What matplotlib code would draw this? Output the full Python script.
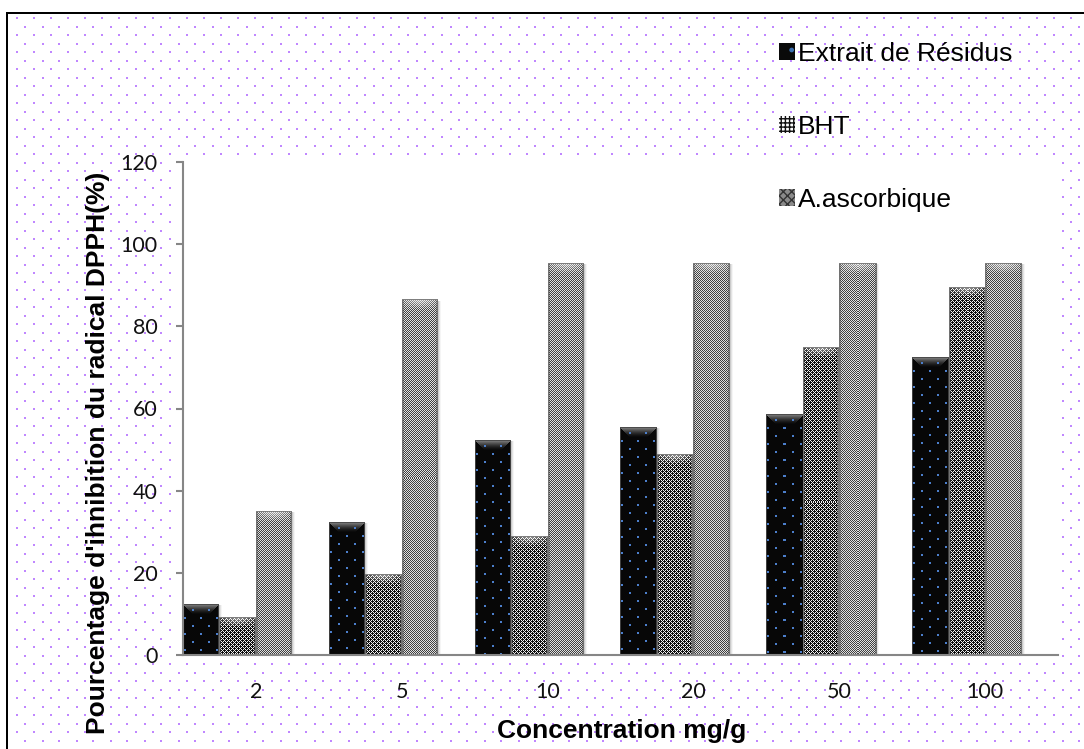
import numpy as np
import matplotlib
matplotlib.use("Agg")
import matplotlib.pyplot as plt
from matplotlib.patches import Patch
from matplotlib.transforms import Affine2D

# ---- data ----
concentrations = ["2", "5", "10", "20", "50", "100"]
extrait = [12.4, 32.4, 52.3, 55.5, 58.7, 72.5]
bht = [9.3, 19.7, 29.0, 48.9, 74.7, 89.6]
ascorbique = [35.0, 86.4, 95.5, 95.5, 95.5, 95.5]
series_names = ["Extrait de Résidus", "BHT", "A.ascorbique"]
y_ticks = [0, 20, 40, 60, 80, 100, 120]

W, H, DPI = 1084, 749, 100
fig = plt.figure(figsize=(W / DPI, H / DPI), dpi=DPI)

# ---- page background: staggered lavender dots, white plot window, black frame ----
bg = np.ones((H, W, 3))
dot_rgb = np.array([192, 135, 255]) / 255.0
r = 0
yy = 17.3
while yy < H - 1:
    xx = 16 + (8.5 if r % 2 else 0.0)
    iy = int(round(yy))
    while xx < W - 1:
        ix = int(round(xx))
        bg[iy:iy + 2, ix:ix + 2] = dot_rgb
        xx += 17
    yy += 8.5
    r += 1
bg[156:662, 178:1061] = 1.0
bg[12:14, 6:] = 0.0
bg[12:, 6:8] = 0.0
fig.figimage(bg, xo=0, yo=0, origin="upper", zorder=-1)

# ---- axes ----
left, right, top, bottom = 183, 1058, 162, 655
ax = fig.add_axes([left / W, (H - bottom) / H, (right - left) / W, (bottom - top) / H])
ax.patch.set_visible(False)
ax.set_zorder(1)

x = np.arange(len(concentrations))
width = 0.25
offsets = [-0.375, -0.125, 0.125]
series = [extrait, bht, ascorbique]
kinds = ["dots", "cross", "checker"]
containers = []
for off, vals in zip(offsets, series):
    containers.append(ax.bar(x + off, vals, width, facecolor="none",
                             edgecolor="none", linewidth=0, zorder=2))
ax.set_xlim(-0.5, len(concentrations) - 0.5)
ax.set_ylim(0, 120)


def texture(kind, h, w):
    """Fill pattern for one bar, h x w pixels."""
    rows = np.arange(h)[:, None]
    cols = np.arange(w)[None, :]
    if kind == "dots":
        t = np.full((h, w, 3), 0.03)
        # bevelled top edge
        for i in range(min(10, h)):
            v = 0.03 + 0.48 * (1 - i / 10) ** 1.5
            a, b = i, w - i
            if b > a:
                t[i, a:b] = v
        # blue dots
        for rr, ry in enumerate(range(5, h - 1, 8)):
            start = 9 if rr % 2 == 0 else 1
            for cx in range(start, w - 1, 16):
                t[ry:ry + 2, cx:cx + 2] = (0.30, 0.50, 0.80)
        t[:, :1] = 0.25
        t[:, -1:] = 0.25
        t[:1, :] = 0.3
        return t
    if kind == "cross":
        tile = np.full((4, 4), 0.95)
        for cy, cx in [(1, 1), (3, 3)]:
            for dy, dx in [(0, 0), (1, 0), (-1, 0), (0, 1), (0, -1)]:
                tile[(cy + dy) % 4, (cx + dx) % 4] = 0.06
        base = tile[rows % 4, cols % 4]
    else:
        base = np.where((rows + cols) % 2 == 0, 0.25, 0.88) + 0 * rows
    base = np.array(base, dtype=float)
    # darken the sides a little (rounded look)
    edge = np.minimum(cols, w - 1 - cols) + 0 * rows
    base = np.where(edge < 2, base * 0.6 + 0.3 * 0.4, base)
    # highlight cap at the top
    cap = np.clip(1 - rows / 10.0, 0, 1) * np.clip(1 - np.abs(cols - (w - 1) / 2) / (w / 2), 0, 1) ** 0.5
    base = base * (1 - 0.6 * cap) + 0.6 * cap
    base[:, :1] = 0.45
    base[:, -1:] = 0.45
    base[:1, :] = 0.5
    return np.dstack([base, base, base])


inv = ax.transData.inverted()
for kind, cont in zip(kinds, containers):
    for rect in cont.patches:
        x0, y0 = rect.get_x(), rect.get_y()
        x1, y1 = x0 + rect.get_width(), y0 + rect.get_height()
        (dx0, dy0), (dx1, dy1) = ax.transData.transform([(x0, y0), (x1, y1)])
        L, R, B, T = int(round(dx0)), int(round(dx1)), int(round(dy0)), int(round(dy1))
        tex = texture(kind, T - B, R - L)
        (ea, eb), (ec, ed) = inv.transform([(L, B), (R, T)])
        # soft drop shadow
        for k, a in [(1, 0.10), (2, 0.07), (3, 0.04)]:
            ax.add_patch(plt.Rectangle((ea, eb), ec - ea, ed - eb, facecolor="#000000",
                                       alpha=a, linewidth=0, zorder=1.5,
                                       transform=ax.transData + Affine2D().translate(k, -1)))
        ax.imshow(tex, extent=[ea, ec, eb, ed], origin="upper", interpolation="nearest",
                  aspect="auto", zorder=2)
ax.set_xlim(-0.5, len(concentrations) - 0.5)
ax.set_ylim(0, 120)

# ---- axis styling ----
axis_grey = "#868686"
for s in ["top", "right"]:
    ax.spines[s].set_visible(False)
for s in ["left", "bottom"]:
    ax.spines[s].set_color(axis_grey)
    ax.spines[s].set_linewidth(1.5)
    ax.spines[s].set_zorder(3)
ax.set_yticks(y_ticks)
ax.set_yticklabels([str(v) for v in y_ticks])
ax.set_xticks(x)
ax.set_xticklabels(concentrations)
ax.tick_params(axis="y", length=5, width=1.5, color=axis_grey, pad=13.5,
               labelsize=15.5, labelcolor="#111111")
ax.tick_params(axis="x", length=0, pad=19.5, labelsize=15.5, labelcolor="#111111")
for lab in ax.get_xticklabels() + ax.get_yticklabels():
    lab.set_fontfamily("Lato")

fig.text(622 / W, 1 - 738 / H, "Concentration mg/g", ha="center", va="baseline",
         fontsize=19, fontweight="bold", family="Liberation Sans")
fig.text(98 / W, 1 - 453 / H, "Pourcentage d'ihnibition du radical DPPH(%)",
         ha="center", va="center", rotation=90, fontsize=19, fontweight="bold",
         family="Liberation Sans")

# ---- legend ----
handles = [
    Patch(facecolor="#0a0a0a", edgecolor="#3b6fb0", hatch=".", linewidth=0),
    Patch(facecolor="#ffffff", edgecolor="#111111", hatch="++++", linewidth=0),
    Patch(facecolor="#8a8a8a", edgecolor="#333333", hatch="xxxx", linewidth=0),
]
fig.legend(handles, series_names, loc="upper left", bbox_to_anchor=(779 / W, 1 - 42 / H),
           frameon=False, prop={"family": "Liberation Sans", "size": 19},
           handlelength=0.6, handleheight=0.6, handletextpad=0.12,
           labelspacing=1.86, borderpad=0, borderaxespad=0)

fig.savefig("out.png", dpi=DPI)
